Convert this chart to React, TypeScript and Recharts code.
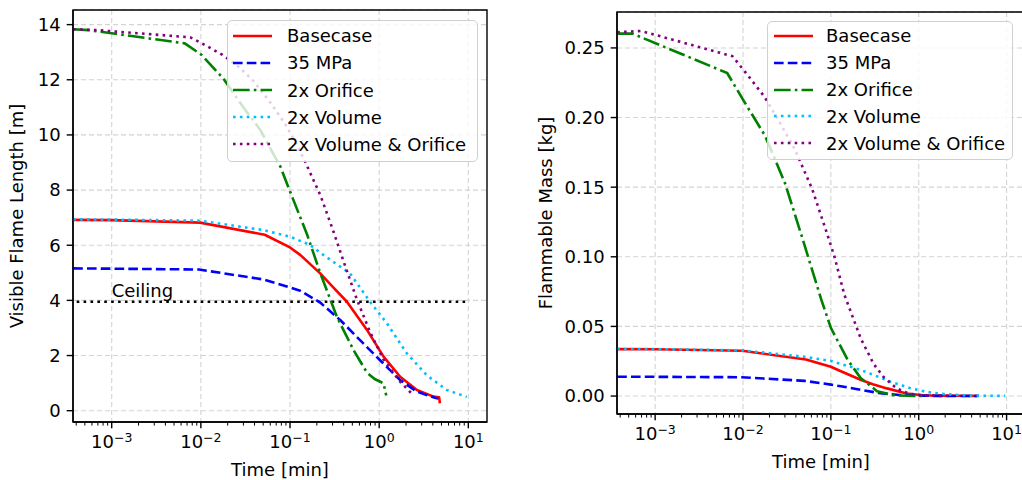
import React from 'react';
import { CartesianGrid, Legend, Line, LineChart, ReferenceArea, ReferenceDot, XAxis, YAxis } from 'recharts';

const FONT = '"DejaVu Sans", sans-serif';

// time axis (log), minutes
const timeDomain: [number, number] = [3.68e-4, 16.2];
const timeMajorTicks = [1e-3, 1e-2, 1e-1, 1, 10];
const timeMajorExponents = ['\u22123', '\u22122', '\u22121', '0', '1'];
const minorSteps = [2, 3, 4, 5, 6, 7, 8, 9];
const minorDecades = [1e-4, 1e-3, 1e-2, 1e-1, 1];

// Basecase
const basecaseTime = [3.7e-4, 1e-3, 0.0098, 0.052, 0.1, 0.13, 0.218, 0.3, 0.435, 0.73, 1.12, 1.72, 2.65, 4.07, 4.7, 4.8];
const basecaseFlame = [6.92, 6.91, 6.82, 6.38, 5.92, 5.65, 4.98, 4.5, 3.95, 2.93, 1.96, 1.23, 0.75, 0.51, 0.49, 0.27];
const basecaseMass = [0.0337, 0.0336, 0.0325, 0.0262, 0.021, 0.0178, 0.0117, 0.0085, 0.0055, 0.0018, 0.0006, 0.0003, 0.0002, 0.0001, 0.0001, 0.0001];

// 35 MPa
const mpa35Time = [3.7e-4, 1e-3, 0.0095, 0.05, 0.1, 0.13, 0.218, 0.365, 0.61, 1.03, 1.72, 2.65, 4.2, 4.6];
const mpa35Flame = [5.16, 5.15, 5.12, 4.76, 4.47, 4.35, 3.92, 3.29, 2.56, 1.82, 1.11, 0.69, 0.47, 0.44];
const mpa35Mass = [0.0138, 0.0138, 0.0135, 0.0109, 0.0082, 0.007, 0.0045, 0.002, 0.0007, 0.0002, 0.0001, 0, 0, 0];

// 2x Orifice
const orificeTime = [3.7e-4, 5.5e-4, 0.0066, 0.0102, 0.0178, 0.03, 0.046, 0.078, 0.1, 0.155, 0.218, 0.335, 0.515, 0.73, 0.89, 1.03, 1.12, 1.2];
const orificeFlame = [13.83, 13.8, 13.32, 12.9, 12.05, 11.0, 10.2, 8.85, 7.95, 6.4, 5.0, 3.41, 2.2, 1.38, 1.15, 1.05, 0.99, 0.55];
const orificeMass = [0.2603, 0.2603, 0.232, 0.212, 0.187, 0.153, 0.116, 0.069, 0.049, 0.026, 0.013, 0.0035, 0.0006, 0.0002, 0.0001, 0, 0, 0];

// 2x Volume
const volumeTime = [3.7e-4, 1e-3, 0.0098, 0.05, 0.1, 0.168, 0.22, 0.47, 0.79, 1.22, 2.04, 3.43, 5.75, 9.6];
const volumeFlame = [6.94, 6.93, 6.89, 6.55, 6.31, 6.01, 5.72, 4.98, 3.95, 3.17, 2.08, 1.28, 0.75, 0.5];
const volumeMass = [0.0338, 0.0337, 0.0328, 0.0282, 0.0252, 0.021, 0.0187, 0.0105, 0.0058, 0.003, 0.0013, 0.0005, 0.0002, 0.0001];

// 2x Volume & Orifice
const bothTime = [3.7e-4, 6.9e-4, 0.0076, 0.0113, 0.0175, 0.027, 0.039, 0.061, 0.088, 0.11, 0.142, 0.22, 0.307, 0.4, 0.56, 0.79, 1.12, 1.72, 2.43];
const bothFlame = [13.83, 13.8, 13.54, 13.25, 12.9, 12.45, 11.95, 11.15, 10.4, 9.85, 9.15, 7.8, 6.5, 5.4, 4.05, 2.85, 1.85, 1.05, 0.55];
const bothMass = [0.2613, 0.2622, 0.244, 0.2305, 0.215, 0.195, 0.177, 0.149, 0.119, 0.1, 0.073, 0.041, 0.023, 0.0135, 0.0055, 0.0016, 0.0004, 0.0001, 0];

// ceiling height
const ceilingTime = [4.05e-4, 9.6];
const ceilingLevel = 3.95;

const flameTicks = [0, 2, 4, 6, 8, 10, 12, 14];
const massTicks = [0, 0.05, 0.1, 0.15, 0.2, 0.25];

const LW = 2.6;
const series = [
  { name: 'Basecase', color: '#ff0000', dash: undefined, time: basecaseTime, flame: basecaseFlame, mass: basecaseMass },
  { name: '35 MPa', color: '#0000ff', dash: `${3.7 * LW} ${1.6 * LW}`, time: mpa35Time, flame: mpa35Flame, mass: mpa35Mass },
  { name: '2x Orifice', color: '#008000', dash: `${6.4 * LW} ${1.6 * LW} ${LW} ${1.6 * LW}`, time: orificeTime, flame: orificeFlame, mass: orificeMass },
  { name: '2x Volume', color: '#00bfff', dash: `${LW} ${1.65 * LW}`, time: volumeTime, flame: volumeFlame, mass: volumeMass },
  { name: '2x Volume & Orifice', color: '#800080', dash: `${LW} ${1.65 * LW}`, time: bothTime, flame: bothFlame, mass: bothMass },
];

const timeMinorTicks = minorDecades
  .flatMap((d) => minorSteps.map((m) => m * d))
  .filter((t) => t > timeDomain[0] && t < timeDomain[1]);
const timeTicks = [...timeMajorTicks, ...timeMinorTicks];

const toPoints = (xs: number[], ys: number[]) => xs.map((t, i) => ({ t, v: ys[i] }));

const TimeTick = ({ x, y, payload }: any) => {
  const idx = timeMajorTicks.findIndex((t) => Math.abs(t - payload.value) / t < 1e-6);
  const major = idx >= 0;
  return (
    <g>
      <line x1={x} x2={x} y1={y} y2={y + (major ? 6.3 : 3.6)} stroke="#000" strokeWidth={major ? 1.4 : 1} />
      {major && (
        <text x={x} y={y + 26} textAnchor="middle" fontFamily={FONT} fontSize={18} fill="#000">
          10<tspan dy={-6.5} fontSize={12.5}>{timeMajorExponents[idx]}</tspan>
        </text>
      )}
    </g>
  );
};

// vertical grid only on the decades
const majorGridX = ({ xAxis }: any) => {
  const s = xAxis?.scale;
  const f = typeof s === 'function' ? s : s?.map ? (v: number) => s.map(v) : null;
  return f ? timeMajorTicks.map((t) => f(t)) : [];
};

interface LegendLayout {
  left: number;
  top: number;
  width: number;
  height: number;
  padTop: number;
  row: number;
  swatchLeft: number;
  textLeft: number;
}

const LegendBox = ({ box }: { box: LegendLayout }) => (
  <div
    style={{
      position: 'relative',
      boxSizing: 'border-box',
      width: box.width,
      height: box.height,
      border: '1px solid #d0d0d0',
      borderRadius: 5,
      background: 'rgba(255,255,255,0.8)',
      fontFamily: FONT,
      fontSize: 18,
      color: '#000',
    }}
  >
    {series.map((s, i) => (
      <div
        key={s.name}
        style={{ position: 'absolute', left: 0, right: 0, top: box.padTop + i * box.row - 1, height: box.row, display: 'flex', alignItems: 'center' }}
      >
        <svg width={40} height={10} style={{ position: 'absolute', left: box.swatchLeft - 1 }}>
          <line x1={0} x2={39} y1={5} y2={5} stroke={s.color} strokeWidth={LW} strokeDasharray={s.dash} />
        </svg>
        <span style={{ position: 'absolute', left: box.textLeft - 1, whiteSpace: 'nowrap' }}>{s.name}</span>
      </div>
    ))}
  </div>
);

interface PanelProps {
  left: number;
  width: number;
  plotLeft: number;
  plotRight: number;
  plotTop: number;
  plotBottom: number;
  yDomain: [number, number];
  yTicks: number[];
  yFormat: (v: number) => string;
  yLabel: string;
  yLabelX: number;
  field: 'flame' | 'mass';
  legend: LegendLayout;
  ceiling?: boolean;
}

const Panel = (p: PanelProps) => {
  const axisStroke = { stroke: '#000', strokeWidth: 1.4 };
  return (
    <div style={{ position: 'absolute', left: p.left, top: 0 }}>
      <LineChart width={p.width} height={480} margin={{ top: p.plotTop, right: p.width - p.plotRight, bottom: 0, left: 0 }}>
        <CartesianGrid stroke="#d4d4d4" strokeWidth={1.1} strokeDasharray="5 3" verticalCoordinatesGenerator={majorGridX} />
        <XAxis
          dataKey="t"
          type="number"
          scale="log"
          domain={timeDomain}
          allowDataOverflow
          ticks={timeTicks}
          interval={0}
          tick={<TimeTick />}
          tickLine={false}
          tickSize={0}
          tickMargin={0}
          axisLine={axisStroke}
          height={480 - p.plotBottom}
          label={(lp: any) => {
            const vb = lp.viewBox ?? {};
            return (
              <text x={vb.x + vb.width / 2} y={vb.y + 53.5} textAnchor="middle" fontFamily={FONT} fontSize={18} fill="#000">
                Time [min]
              </text>
            );
          }}
        />
        <YAxis
          type="number"
          domain={p.yDomain}
          allowDataOverflow
          ticks={p.yTicks}
          interval={0}
          tickFormatter={p.yFormat}
          width={p.plotLeft}
          tickSize={6.3}
          tickMargin={6}
          tickLine={axisStroke}
          axisLine={axisStroke}
          tick={{ fill: '#000', fontSize: 18, fontFamily: FONT }}
          label={(lp: any) => {
            const vb = lp.viewBox ?? {};
            const cy = vb.y + vb.height / 2;
            return (
              <text x={p.yLabelX} y={cy} transform={`rotate(-90 ${p.yLabelX} ${cy})`} textAnchor="middle" fontFamily={FONT} fontSize={18} fill="#000">
                {p.yLabel}
              </text>
            );
          }}
        />
        {p.ceiling && (
          <Line
            data={toPoints(ceilingTime, ceilingTime.map(() => ceilingLevel))}
            dataKey="v"
            stroke="#000"
            strokeWidth={LW}
            strokeDasharray={`${LW} ${1.65 * LW}`}
            dot={false}
            activeDot={false}
            isAnimationActive={false}
            legendType="none"
          />
        )}
        {series.map((s) => (
          <Line
            key={s.name}
            name={s.name}
            data={toPoints(s.time, s[p.field])}
            dataKey="v"
            type="linear"
            stroke={s.color}
            strokeWidth={LW}
            strokeDasharray={s.dash}
            strokeLinejoin="round"
            dot={false}
            activeDot={false}
            isAnimationActive={false}
          />
        ))}
        {p.ceiling && (
          <ReferenceDot
            x={1e-3}
            y={ceilingLevel}
            r={0}
            fill="none"
            stroke="none"
            label={(lp: any) => {
              const vb = lp.viewBox ?? {};
              return (
                <text x={vb.x} y={vb.y - 4.5} fontFamily={FONT} fontSize={18} fill="#000">
                  Ceiling
                </text>
              );
            }}
          />
        )}
        {/* axes frame (top and right spines) */}
        <ReferenceArea
          x1={timeDomain[0]}
          x2={timeDomain[1]}
          y1={p.yDomain[0]}
          y2={p.yDomain[1]}
          fill="none"
          fillOpacity={0}
          stroke="#000"
          strokeWidth={1.4}
          ifOverflow="visible"
        />
        <Legend
          layout="vertical"
          verticalAlign="middle"
          align="center"
          wrapperStyle={{ left: p.legend.left, top: p.legend.top, width: p.legend.width }}
          content={() => <LegendBox box={p.legend} />}
        />
      </LineChart>
    </div>
  );
};

export default function App() {
  return (
    <div style={{ position: 'absolute', left: 0, top: 0, width: 1022, height: 480, overflow: 'hidden', background: '#fff' }}>
      <Panel
        left={0}
        width={511}
        plotLeft={73}
        plotRight={487}
        plotTop={10}
        plotBottom={422}
        yDomain={[-0.41, 14.53]}
        yTicks={flameTicks}
        yFormat={(v) => String(v)}
        yLabel="Visible Flame Length [m]"
        yLabelX={23}
        field="flame"
        ceiling
        legend={{ left: 227, top: 20, width: 251, height: 142, padTop: 2.1, row: 27.2, swatchLeft: 6, textLeft: 60 }}
      />
      <Panel
        left={511}
        width={516}
        plotLeft={106}
        plotRight={514}
        plotTop={12}
        plotBottom={414}
        yDomain={[-0.0129, 0.2758]}
        yTicks={massTicks}
        yFormat={(v) => v.toFixed(2)}
        yLabel="Flammable Mass [kg]"
        yLabelX={41.4}
        field="mass"
        legend={{ left: 256, top: 21, width: 246, height: 139, padTop: 1.3, row: 26.9, swatchLeft: 7, textLeft: 59 }}
      />
    </div>
  );
}
